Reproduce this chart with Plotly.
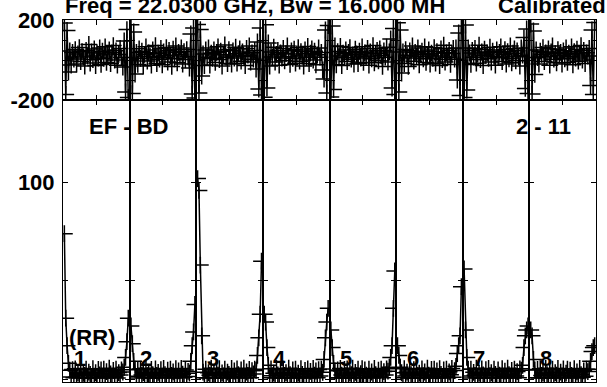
import plotly.graph_objects as go
from plotly.subplots import make_subplots

# ---------------- data ----------------
CHANNELS = list(range(1, 49))

AMP_IF1 = [74, 31, 17, 8,
           4.5, 1.0, 4.8, 0.6, 5.2, 0.9, 3.1, 0.5, 5.4, 0.8, 2.9, 1.9, 5.0, 0.4, 3.5, 2.4, 0.6, 5.3, 1.5, 3.2,
           0.7, 4.9, 2.1, 4.6, 0.5, 5.1, 1.2, 3.8, 0.6, 5.5, 2.6, 0.9, 4.4, 1.4, 5.0, 0.5, 3.3, 2.0, 4.7, 3.6,
           6, 11, 19, 31]
AMP_IF2 = [27, 18, 9, 5,
           1.4, 4.7, 0.5, 5.1, 2.0, 3.3, 0.6, 5.5, 1.7, 2.8, 0.4, 4.9, 2.3, 0.7, 5.2, 1.8, 3.4, 0.5, 4.8, 1.5,
           5.4, 2.2, 0.8, 4.5, 0.6, 5.0, 1.9, 3.7, 0.5, 5.3, 1.1, 4.2, 0.7, 5.4, 2.5, 0.9, 4.6, 1.3, 3.9, 3.0,
           9, 17, 24, 38]
AMP_IF3 = [102, 96, 58, 22,
           3.5, 0.6, 5.0, 0.5, 3.2, 1.9, 5.5, 0.7, 2.7, 0.4, 4.8, 2.0, 5.3, 0.6, 3.1, 1.6, 5.1, 0.5, 3.5, 2.4,
           0.7, 5.4, 1.3, 4.1, 0.6, 5.2, 2.2, 0.8, 4.6, 1.0, 5.5, 0.5, 3.6, 1.8, 4.9, 0.7, 4.3, 2.6, 5.0, 4.4,
           12, 21, 33, 60]
AMP_IF4 = [33, 29, 16, 7,
           0.6, 5.2, 1.7, 3.0, 0.5, 5.4, 2.1, 0.8, 4.7, 0.4, 5.0, 1.8, 3.3, 0.6, 5.5, 2.2, 0.7, 4.6, 0.5, 5.1,
           1.5, 3.0, 0.6, 5.3, 2.4, 0.9, 4.4, 0.5, 5.2, 1.2, 3.9, 0.7, 5.4, 2.0, 4.1, 0.6, 4.8, 1.6, 5.1, 3.4,
           10, 21, 29, 36]
AMP_IF5 = [25, 16, 8, 4.2,
           0.7, 4.6, 0.5, 5.4, 2.0, 0.6, 4.9, 1.6, 5.2, 0.4, 3.1, 2.3, 5.5, 0.6, 3.4, 1.7, 5.0, 0.5, 2.8, 5.3,
           0.7, 4.7, 2.0, 0.8, 5.1, 1.4, 3.6, 0.5, 5.4, 2.3, 0.9, 4.5, 1.1, 5.0, 0.6, 3.8, 2.1, 5.2, 4.0, 6.0,
           11, 17, 36, 55]
AMP_IF6 = [17, 12, 6, 3.2,
           0.6, 5.3, 1.5, 3.5, 0.5, 5.1, 2.2, 0.7, 4.8, 0.4, 5.4, 1.9, 3.0, 0.6, 5.2, 1.6, 3.6, 0.5, 5.5, 2.0,
           0.8, 4.9, 0.6, 5.0, 1.3, 4.2, 0.5, 5.3, 2.4, 0.7, 4.6, 1.0, 5.1, 0.6, 3.7, 2.2, 5.4, 0.9, 4.3, 6.5,
           13, 17, 22, 47]
AMP_IF7 = [56, 25, 11, 5,
           1.6, 5.0, 0.5, 3.4, 1.9, 5.5, 0.6, 3.0, 0.4, 5.2, 2.1, 0.8, 4.8, 0.6, 5.4, 1.7, 3.2, 0.5, 5.1, 2.4,
           0.7, 4.6, 2.0, 0.5, 5.3, 1.2, 4.0, 0.6, 5.5, 2.2, 0.9, 4.4, 0.5, 5.0, 1.5, 3.8, 0.7, 5.2, 4.5, 7.0,
           16, 22, 25, 27]
AMP_IF8 = [25, 22, 10, 4.6,
           0.7, 4.9, 0.5, 5.3, 1.8, 3.1, 0.6, 5.5, 2.2, 0.4, 4.7, 1.5, 5.0, 0.6, 3.3, 2.0, 5.4, 0.5, 3.5, 1.6,
           5.2, 0.7, 3.0, 5.1, 0.6, 4.5, 1.9, 0.8, 5.3, 1.1, 3.7, 0.5, 5.4, 2.3, 0.9, 4.2, 1.4, 5.0, 3.8, 5.0,
           9, 14, 16, 17]

PH_IF1 = [185, -172, 148,
          -60, 45, -25, 38, 5, 52, -20, 30, 62, -8, 42, 15, -30, 48, 20, 78, -15, 40, 2, 55, -28,
          35, 10, 60, -22, 44, 8, 66, -12, 30, 50, -18, 36, 72, 0, 46, -26, 28, 58, 12, -35, 95,
          -160, 152, -188]
PH_IF2 = [176, -168, 140,
          -70, 38, -22, 56, 8, 44, -30, 28, 66, -5, 36, 18, -26, 50, 12, 72, -18, 34, 4, 58, -24,
          40, 14, 62, -10, 48, 22, -32, 54, 6, 70, -14, 38, 26, 60, -20, 42, 2, 52, 16, -40, 130,
          -170, 160, -190]
PH_IF3 = [178, -165, 152,
          -80, 30, -28, 50, 12, 60, -25, 34, 8, 50, -12, 38, 66, 2, 44, -30, 26, 75, 14, -18, 52,
          20, -20, 46, 10, 64, -16, 32, 56, -6, 40, 18, -28, 58, 24, 70, -10, 36, 4, 48, -45, 90,
          -145, 160, -175]
PH_IF4 = [-186, 176, -140,
          85, -30, 40, 15, 64, -10, 28, 48, -26, 36, 10, 58, -4, 32, 70, 16, -22, 46, 8, 54, -16,
          30, 62, -6, 42, 20, -30, 50, 12, 68, -18, 34, 56, 0, 44, -24, 26, 60, 14, 38, -50, -95,
          150, -165, 172]
PH_IF5 = [-185, 170, -148,
          70, -24, 42, 20, 68, -28, 34, 12, 50, -8, 38, 62, 4, 26, -20, 54, 30, -18, 44, 10, 66,
          -12, 36, 18, 58, -26, 40, 6, 72, -14, 32, 48, -4, 56, 22, -32, 46, 14, 64, -10, 40, 105,
          -140, 158, -172]
PH_IF6 = [186, -160, 150,
          -65, 40, -18, 52, 24, -32, 46, 10, 70, -6, 38, 18, 60, -24, 30, 44, 6, 66, -12, 28, 50,
          -20, 34, 8, 62, -16, 42, 20, -28, 56, 2, 74, -10, 36, 14, 48, -22, 32, 58, 4, 60, -100,
          135, -178, 170]
PH_IF7 = [-188, 175, -150,
          60, 35, -22, 48, 14, 58, -16, 30, 74, 2, 40, -28, 54, 22, 36, 8, 64, -10, 44, 18, -26,
          50, 12, 38, 66, -8, 28, 52, -20, 42, 6, 70, -14, 34, 56, -4, 46, 16, -30, 60, 24, 112,
          -142, 155, -168]
PH_IF8 = [180, -170, 145,
          -72, 50, 12, -20, 44, 28, 62, -8, 36, 16, 56, -26, 40, 70, 4, 32, -14, 52, 24, 38, -20,
          46, 6, 60, -12, 34, 18, 66, -24, 42, 10, 54, -6, 30, 72, 0, 48, -18, 36, 20, 58, -128,
          150, -172, 188]

AMPS = [AMP_IF1, AMP_IF2, AMP_IF3, AMP_IF4, AMP_IF5, AMP_IF6, AMP_IF7, AMP_IF8]
PHASES = [PH_IF1, PH_IF2, PH_IF3, PH_IF4, PH_IF5, PH_IF6, PH_IF7, PH_IF8]
IF_LABELS = ["1", "2", "3", "4", "5", "6", "7", "8"]

PH_TICKS = [-200, -100, 0, 100, 200]
PH_TICKTEXT = ["-200", "", "", "", "200"]
AMP_TICKS = [0, 50, 100]
AMP_TICKTEXT = ["0", "", "100"]

TITLE_LEFT = "Freq = 22.0300 GHz, Bw = 16.000 MH"
TITLE_RIGHT = "Calibrated"
BASELINE_LABEL = "EF - BD"
TIME_LABEL = "2 - 11"
POL_LABEL = "(RR)"

# ---------------- figure ----------------
W, H = 607, 387
ML, MR, MT, MB = 63, 11, 20, 5
PW, PH = W - ML - MR, H - MT - MB
FONT = dict(family="Liberation Sans, Arial, sans-serif", size=22, color="black", weight="bold")
NCH = len(CHANNELS)

n = len(AMPS)
fig = make_subplots(rows=2, cols=n, horizontal_spacing=0, vertical_spacing=0,
                    row_heights=[80, 282])

for k in range(n):
    common = dict(x=CHANNELS, mode="lines+markers", showlegend=False,
                  line=dict(color="black", width=1.5),
                  marker=dict(symbol="cross-thin", size=12, color="black",
                              line=dict(color="black", width=1.5)))
    fig.add_trace(go.Scatter(y=PHASES[k], **common), row=1, col=k + 1)
    fig.add_trace(go.Scatter(y=AMPS[k], **common), row=2, col=k + 1)

fig.update_xaxes(range=[0, NCH + 1], showline=True, linecolor="black", linewidth=1,
                 mirror="ticks", ticks="inside", ticklen=5, tickcolor="black",
                 tickvals=[(NCH + 1) / 2], showticklabels=False, showgrid=False,
                 zeroline=False, automargin=False)
fig.update_yaxes(showline=True, linecolor="black", linewidth=1, mirror="ticks",
                 ticks="inside", ticklen=5, tickcolor="black", showgrid=False,
                 zeroline=False, tickfont=FONT, automargin=False, ticklabelstandoff=3)
for k in range(n):
    fig.update_yaxes(range=[-200, 200], tickvals=PH_TICKS, ticktext=PH_TICKTEXT,
                     showticklabels=(k == 0), row=1, col=k + 1)
    fig.update_yaxes(range=[-1.5, 142], tickvals=AMP_TICKS, ticktext=AMP_TICKTEXT,
                     showticklabels=(k == 0), row=2, col=k + 1)


def px(x):
    return (x - ML) / PW


def py(y):
    return 1 - (y - MT) / PH


ann = []
ann.append(dict(text=TITLE_LEFT, x=px(63), y=py(6), xanchor="left", yanchor="middle"))
ann.append(dict(text=TITLE_RIGHT, x=px(496), y=py(6), xanchor="left", yanchor="middle"))
ann.append(dict(text=BASELINE_LABEL, x=px(128), y=py(126), xanchor="center", yanchor="middle"))
ann.append(dict(text=TIME_LABEL, x=px(543), y=py(126), xanchor="center", yanchor="middle"))
ann.append(dict(text=POL_LABEL, x=px(92), y=py(337), xanchor="center", yanchor="middle"))
for k, lab in enumerate(IF_LABELS):
    ann.append(dict(text=lab, x=px(ML + 16.5 + k * PW / n), y=py(358),
                    xanchor="center", yanchor="middle"))
for a in ann:
    a.update(xref="paper", yref="paper", showarrow=False, font=FONT)

fig.update_layout(width=W, height=H, margin=dict(l=ML, r=MR, t=MT, b=MB),
                  paper_bgcolor="white", plot_bgcolor="white", annotations=ann)

fig.write_html(
    "out.html",
    config={"displayModeBar": False},
    post_script=("document.body.style.margin='0';"
                 "document.body.style.overflow='hidden';"
                 "document.documentElement.style.overflow='hidden';"),
)
